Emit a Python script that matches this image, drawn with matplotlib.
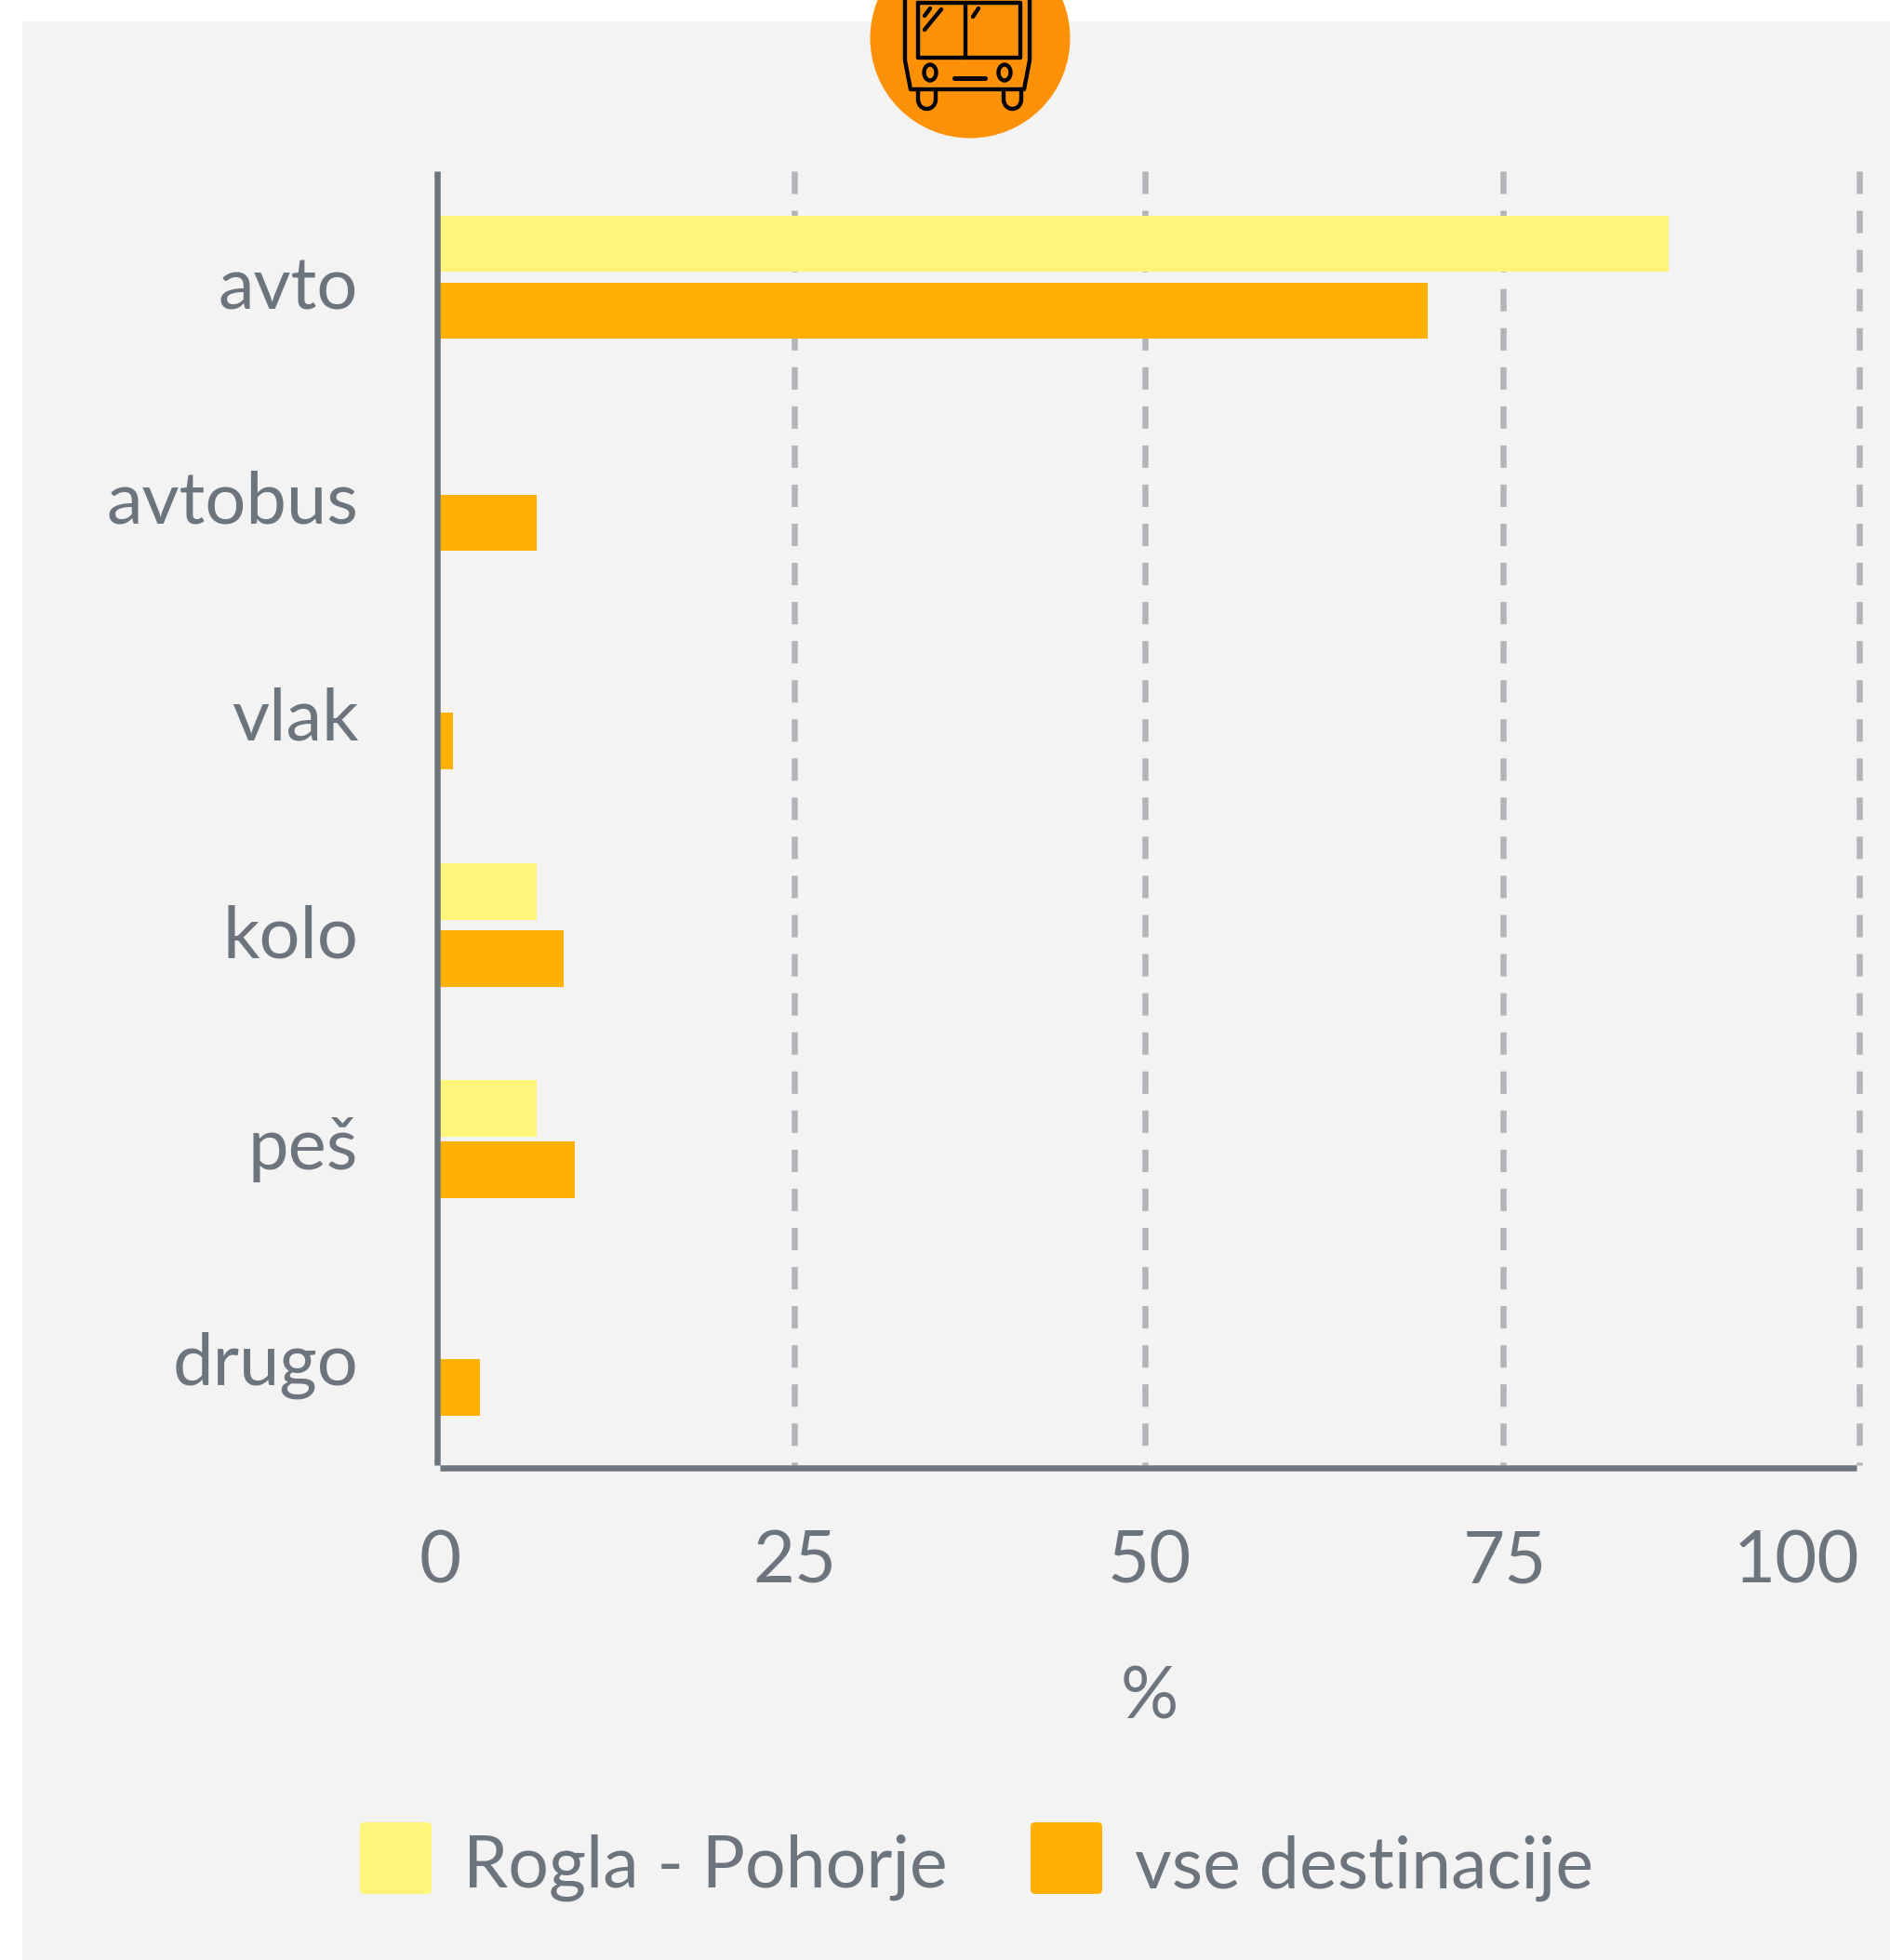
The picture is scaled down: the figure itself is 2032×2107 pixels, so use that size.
import matplotlib.pyplot as plt
from matplotlib.patches import Rectangle, Circle, Ellipse, FancyBboxPatch, Arc

plt.rcParams['font.family'] = ['Lato', 'DejaVu Sans']

categories = ["avto", "avtobus", "vlak", "kolo", "peš", "drugo"]
rogla = [86.55, 0, 0, 6.8, 6.8, 0]
vse = [69.6, 6.8, 0.9, 8.7, 9.5, 2.8]
xticks = [0, 25, 50, 75, 100]
series_names = ["Rogla - Pohorje", "vse destinacije"]

# row positions, the original rows are not quite evenly spaced
label_y = [0.023, 1.012, 2.012, 3.017, 3.994, 4.988]
rogla_y = [-0.155, 0.845, 1.845, 2.834, 3.833, 4.84]
vse_y = [0.154, 1.132, 2.139, 3.143, 4.118, 5.122]
grid_x = [25, 49.7, 74.9, 100]

YELLOW = "#fff57a"
ORANGE = "#ffb000"
TEXT = "#6c757d"
GRID = "#b1b4b8"
W, H = 2033, 2107
PX = 0.72  # one pixel in points at dpi 100

fig = plt.figure(figsize=(W / 100, H / 100), dpi=100, facecolor="white")

# background layer in pixels: panel, icon, legend
bg = fig.add_axes([0, 0, 1, 1])
bg.set_xlim(0, W)
bg.set_ylim(H, 0)
bg.axis("off")
bg.add_patch(Rectangle((24, 23), W - 24, H - 23, fc="#f3f3f3", ec="none"))
bg.add_patch(Circle((1043, 41), 107.5, fc="#ff9107", ec="none"))

# bus icon
LW = 4.4 * PX
k = dict(color="black", lw=LW, solid_capstyle="round", solid_joinstyle="round")
bg.plot([973, 973, 979, 1101, 1107, 1107], [-5, 65, 96, 96, 65, -5], **k)
bg.plot([987, 987, 1097, 1097, 987], [3, 62, 62, 3, 3], **k)
bg.plot([1038, 1038], [3, 62], **k)
bg.plot([1026, 1059], [84, 84], color="black", lw=5 * PX, solid_capstyle="round")
bg.plot([994, 1000], [17, 9], **k)
bg.plot([994, 1012], [32, 10], **k)
bg.plot([1046, 1052], [18, 9], **k)
for cx in [1000, 1080]:
    bg.add_patch(Ellipse((cx, 78), 13, 17, fc="none", ec="black", lw=LW))
for cx in [996.5, 1088.5]:
    bg.plot([cx - 9.5, cx - 9.5], [96, 107], **k)
    bg.plot([cx + 9.5, cx + 9.5], [96, 107], **k)
    bg.add_patch(Arc((cx, 107), 19, 20, theta1=0, theta2=180, ec="black", lw=LW))

# legend
for x0, c, name, tx in [(387, YELLOW, series_names[0], 498), (1108, ORANGE, series_names[1], 1220)]:
    bg.add_patch(FancyBboxPatch((x0 + 5, 1964), 67, 67, boxstyle="round,pad=5,rounding_size=5", fc=c, ec="none"))
    bg.text(tx, 2008, name, color=TEXT, fontsize=55.5, va="center", ha="left")

# chart
ax = fig.add_axes([473 / W, 1 - 1575 / H, (1999 - 473) / W, (1575 - 184) / H])
ax.patch.set_alpha(0)
ax.set_xlim(0, 100)
ax.set_ylim(5.48, -0.49)

for g in grid_x:
    ax.plot([g, g], [-0.49, 5.48], color=GRID, lw=6.5 * PX, linestyle=(0, (3.7, 2.77)), clip_on=False, zorder=1)

ax.barh(rogla_y, rogla, height=0.26, color=YELLOW, zorder=2)
ax.barh(vse_y, vse, height=0.26, color=ORANGE, zorder=2)

for s in ["top", "right"]:
    ax.spines[s].set_visible(False)
for s in ["left", "bottom"]:
    ax.spines[s].set_color(TEXT)
    ax.spines[s].set_linewidth(6.5 * PX)
    ax.spines[s].set_position(("outward", 3 * PX))
    ax.spines[s].set_capstyle("butt")
ax.spines["bottom"].set_bounds(0, 99.8)

ax.set_yticks(label_y)
ax.set_yticklabels(categories)
ax.set_xticks(xticks)
ax.set_xticklabels([str(t) for t in xticks])
ax.get_xticklabels()[-1].set_ha("right")
ax.tick_params(axis="y", length=0, pad=61, labelsize=56, labelcolor=TEXT)
ax.tick_params(axis="x", length=0, pad=48, labelsize=56, labelcolor=TEXT)
ax.set_xlabel("%", fontsize=56, color=TEXT, labelpad=54)

fig.savefig("out.png", dpi=100)
